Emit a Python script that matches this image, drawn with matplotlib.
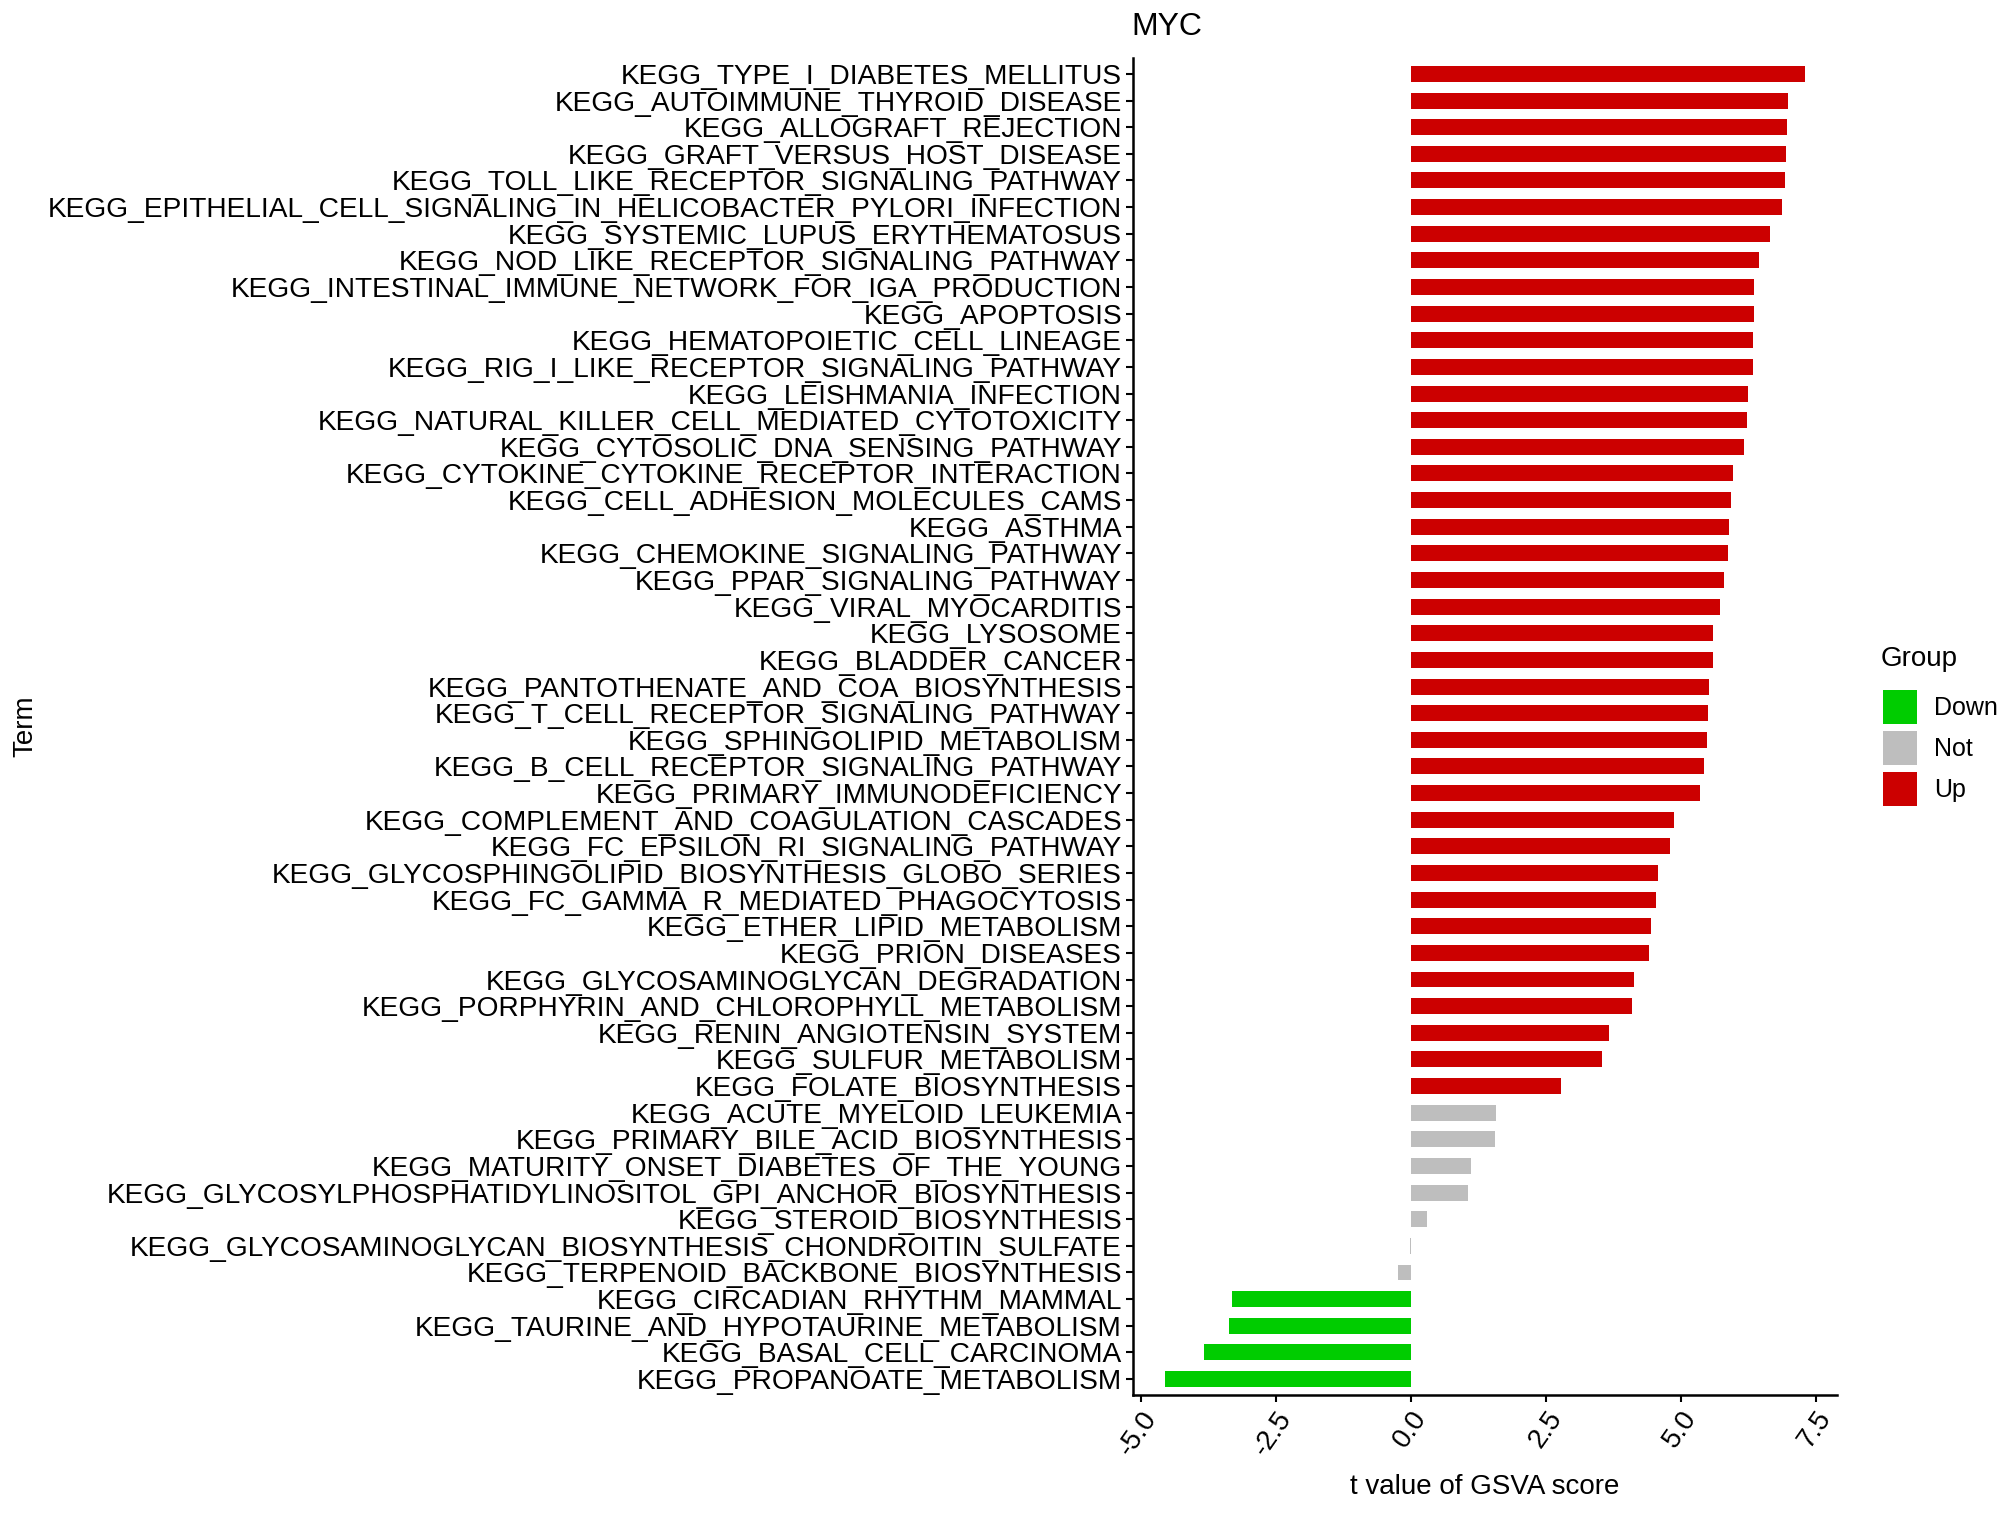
import numpy as np
import matplotlib.pyplot as plt
from matplotlib.patches import Patch

plt.rcParams['font.family'] = ['Liberation Sans', 'DejaVu Sans']

# pathway terms, top to bottom
terms = [
    "KEGG_TYPE_I_DIABETES_MELLITUS",
    "KEGG_AUTOIMMUNE_THYROID_DISEASE",
    "KEGG_ALLOGRAFT_REJECTION",
    "KEGG_GRAFT_VERSUS_HOST_DISEASE",
    "KEGG_TOLL_LIKE_RECEPTOR_SIGNALING_PATHWAY",
    "KEGG_EPITHELIAL_CELL_SIGNALING_IN_HELICOBACTER_PYLORI_INFECTION",
    "KEGG_SYSTEMIC_LUPUS_ERYTHEMATOSUS",
    "KEGG_NOD_LIKE_RECEPTOR_SIGNALING_PATHWAY",
    "KEGG_INTESTINAL_IMMUNE_NETWORK_FOR_IGA_PRODUCTION",
    "KEGG_APOPTOSIS",
    "KEGG_HEMATOPOIETIC_CELL_LINEAGE",
    "KEGG_RIG_I_LIKE_RECEPTOR_SIGNALING_PATHWAY",
    "KEGG_LEISHMANIA_INFECTION",
    "KEGG_NATURAL_KILLER_CELL_MEDIATED_CYTOTOXICITY",
    "KEGG_CYTOSOLIC_DNA_SENSING_PATHWAY",
    "KEGG_CYTOKINE_CYTOKINE_RECEPTOR_INTERACTION",
    "KEGG_CELL_ADHESION_MOLECULES_CAMS",
    "KEGG_ASTHMA",
    "KEGG_CHEMOKINE_SIGNALING_PATHWAY",
    "KEGG_PPAR_SIGNALING_PATHWAY",
    "KEGG_VIRAL_MYOCARDITIS",
    "KEGG_LYSOSOME",
    "KEGG_BLADDER_CANCER",
    "KEGG_PANTOTHENATE_AND_COA_BIOSYNTHESIS",
    "KEGG_T_CELL_RECEPTOR_SIGNALING_PATHWAY",
    "KEGG_SPHINGOLIPID_METABOLISM",
    "KEGG_B_CELL_RECEPTOR_SIGNALING_PATHWAY",
    "KEGG_PRIMARY_IMMUNODEFICIENCY",
    "KEGG_COMPLEMENT_AND_COAGULATION_CASCADES",
    "KEGG_FC_EPSILON_RI_SIGNALING_PATHWAY",
    "KEGG_GLYCOSPHINGOLIPID_BIOSYNTHESIS_GLOBO_SERIES",
    "KEGG_FC_GAMMA_R_MEDIATED_PHAGOCYTOSIS",
    "KEGG_ETHER_LIPID_METABOLISM",
    "KEGG_PRION_DISEASES",
    "KEGG_GLYCOSAMINOGLYCAN_DEGRADATION",
    "KEGG_PORPHYRIN_AND_CHLOROPHYLL_METABOLISM",
    "KEGG_RENIN_ANGIOTENSIN_SYSTEM",
    "KEGG_SULFUR_METABOLISM",
    "KEGG_FOLATE_BIOSYNTHESIS",
    "KEGG_ACUTE_MYELOID_LEUKEMIA",
    "KEGG_PRIMARY_BILE_ACID_BIOSYNTHESIS",
    "KEGG_MATURITY_ONSET_DIABETES_OF_THE_YOUNG",
    "KEGG_GLYCOSYLPHOSPHATIDYLINOSITOL_GPI_ANCHOR_BIOSYNTHESIS",
    "KEGG_STEROID_BIOSYNTHESIS",
    "KEGG_GLYCOSAMINOGLYCAN_BIOSYNTHESIS_CHONDROITIN_SULFATE",
    "KEGG_TERPENOID_BACKBONE_BIOSYNTHESIS",
    "KEGG_CIRCADIAN_RHYTHM_MAMMAL",
    "KEGG_TAURINE_AND_HYPOTAURINE_METABOLISM",
    "KEGG_BASAL_CELL_CARCINOMA",
    "KEGG_PROPANOATE_METABOLISM",
]

t_values = [
    7.30, 6.99, 6.97, 6.95, 6.93, 6.87, 6.65, 6.45, 6.36, 6.35,
    6.34, 6.33, 6.25, 6.22, 6.17, 5.97, 5.93, 5.90, 5.87, 5.79,
    5.72, 5.60, 5.59, 5.52, 5.50, 5.49, 5.43, 5.35, 4.88, 4.80,
    4.57, 4.54, 4.44, 4.40, 4.14, 4.09, 3.66, 3.54, 2.77, 1.58,
    1.55, 1.11, 1.06, 0.29, -0.02, -0.25, -3.31, -3.37, -3.84, -4.56,
]

groups = ["Up"] * 39 + ["Not"] * 7 + ["Down"] * 4

group_names = ["Down", "Not", "Up"]
group_colors = {"Down": "#00CC00", "Not": "#BEBEBE", "Up": "#CC0000"}

fig = plt.figure(figsize=(20, 15.16), dpi=100)
ax = fig.add_axes([0.5665, 0.0798, 0.352, 0.882])

n = len(terms)
ypos = np.arange(n)
ax.barh(ypos, t_values, height=0.6,
        color=[group_colors[g] for g in groups])

ax.set_yticks(ypos)
ax.set_yticklabels(terms, fontsize=20.25)
ax.set_ylim(n - 0.4, -0.6)

# ggplot-style 5% expansion of the x range
span = max(t_values) - min(t_values)
ax.set_xlim(min(t_values) - 0.05 * span, max(t_values) + 0.05 * span)
ax.set_xticks([-5.0, -2.5, 0.0, 2.5, 5.0, 7.5])
ax.set_xticklabels(["-5.0", "-2.5", "0.0", "2.5", "5.0", "7.5"],
                   fontsize=20, rotation=55, ha='right', va='top',
                   rotation_mode='anchor')

for side in ['top', 'right']:
    ax.spines[side].set_visible(False)
for side in ['left', 'bottom']:
    ax.spines[side].set_linewidth(1.8)
ax.tick_params(axis='both', length=5, width=1.5, pad=3, color='black')

ax.set_xlabel("t value of GSVA score", fontsize=20, labelpad=10)
ax.set_ylabel("Term", fontsize=20)
ax.yaxis.set_label_coords(38 / 2000, 0.5 * 0.882 + 0.0798, transform=fig.transFigure)

fig.text(0.5835, 1 - 27 / 1516, "MYC", fontsize=23, ha='center', va='center')

# legend
fig.text(1881 / 2000, 1 - 659 / 1516, "Group", fontsize=20, ha='left', va='center')
handles = [Patch(facecolor=group_colors[g], edgecolor='none') for g in group_names]
fig.legend(handles, group_names, loc='upper left',
           bbox_to_anchor=(1883 / 2000, 1 - 690 / 1516), frameon=False,
           fontsize=18, handlelength=1.36, handleheight=1.72,
           labelspacing=0.28, handletextpad=0.7, borderpad=0, borderaxespad=0)

fig.savefig("out.png", dpi=100)
